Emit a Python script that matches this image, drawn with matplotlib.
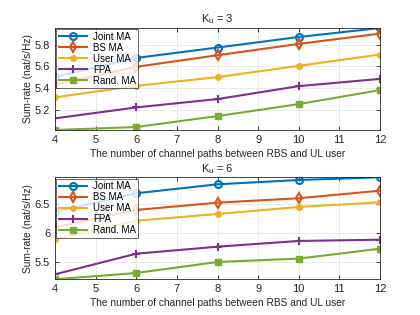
import matplotlib
matplotlib.use("Agg")
import matplotlib.pyplot as plt

plt.rcParams["font.family"] = ["Liberation Sans", "DejaVu Sans"]

paths = [4, 6, 8, 10, 12]
labels = ["Joint MA", "BS MA", "User MA", "FPA", "Rand. MA"]

# K_u = 3
joint_3 = [5.505, 5.678, 5.773, 5.869, 5.951]
bs_3 = [5.436, 5.597, 5.703, 5.806, 5.900]
user_3 = [5.318, 5.424, 5.503, 5.606, 5.709]
fpa_3 = [5.127, 5.227, 5.303, 5.421, 5.487]
rand_3 = [5.021, 5.048, 5.148, 5.257, 5.385]

# K_u = 6
joint_6 = [6.366, 6.692, 6.848, 6.923, 6.970]
bs_6 = [6.099, 6.401, 6.528, 6.605, 6.737]
user_6 = [5.895, 6.214, 6.331, 6.453, 6.535]
fpa_6 = [5.280, 5.639, 5.761, 5.861, 5.883]
rand_6 = [5.193, 5.303, 5.495, 5.553, 5.727]

colors = ["#0072BD", "#D95319", "#EDB120", "#7E2F8E", "#77AC30"]
markers = [
    dict(marker="o", ms=5, mfc="none", mew=1.5),
    dict(marker="d", ms=5, mfc="none", mew=1.5),
    dict(marker="o", ms=4, mew=1.0),
    dict(marker="+", ms=6, mew=1.5),
    dict(marker="s", ms=4.5, mew=1.0),
]

fig = plt.figure(figsize=(4.2, 3.15), dpi=100)
ax1 = fig.add_axes([55 / 420, 1 - 130 / 315, 325 / 420, 102 / 315])
ax2 = fig.add_axes([55 / 420, 1 - 279.3 / 315, 325 / 420, 102 / 315])

panels = [
    (ax1, [joint_3, bs_3, user_3, fpa_3, rand_3], "3", [5.2, 5.4, 5.6, 5.8]),
    (ax2, [joint_6, bs_6, user_6, fpa_6, rand_6], "6", [5.5, 6, 6.5]),
]

for ax, series, ku, yt in panels:
    for vals, lab, c, mk in zip(series, labels, colors, markers):
        ax.plot(paths, vals, color=c, lw=1.5, label=lab, mec=c, **mk)
    lo = min(min(s) for s in series)
    hi = max(max(s) for s in series)
    ax.set_xlim(4, 12)
    ax.set_ylim(lo, hi)
    ax.set_yticks(yt)
    ax.set_yticklabels([f"{v:g}" for v in yt])
    ax.grid(True, color="#e6e6e6", lw=0.6)
    ax.set_axisbelow(True)
    for sp in ax.spines.values():
        sp.set_color("#262626")
        sp.set_linewidth(0.6)
    ax.tick_params(labelsize=8, colors="#262626", length=3, width=0.6, direction="in",
                   top=True, right=True)
    ax.set_xlabel("The number of channel paths between RBS and UL user", fontsize=7.3,
                  color="#262626", labelpad=3)
    ax.set_ylabel("Sum-rate (nat/s/Hz)", fontsize=7.3, color="#262626", labelpad=1)
    ax.set_title(r"K$_\mathregular{u}$ = " + ku, fontsize=8, color="#262626", pad=4)
    leg = ax.legend(loc="upper left", fontsize=7, frameon=True, fancybox=False,
                    borderaxespad=0.15, handlelength=2.9, labelspacing=0.1,
                    borderpad=0.25, handletextpad=0.6)
    leg.get_frame().set_edgecolor("#262626")
    leg.get_frame().set_linewidth(0.6)

fig.savefig("out.png", dpi=100)
